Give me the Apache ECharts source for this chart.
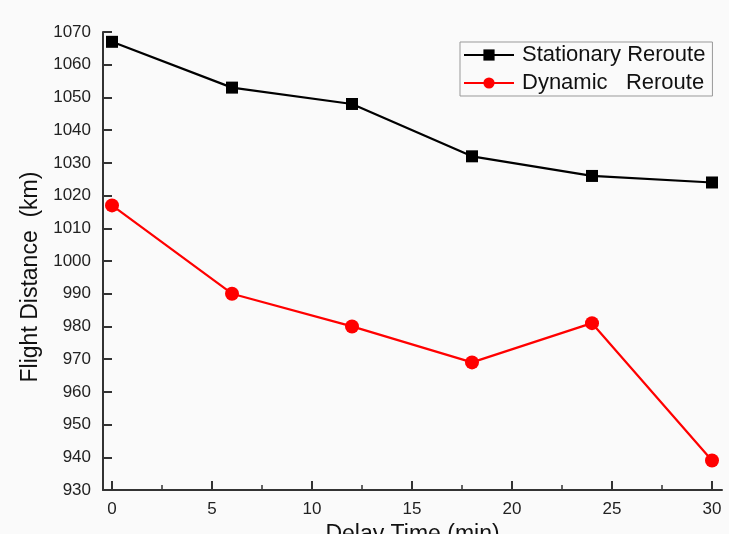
<!DOCTYPE html>
<html>
<head>
<meta charset="utf-8">
<script src="https://cdn.jsdelivr.net/npm/echarts@6/dist/echarts.min.js"></script>
<style>
html, body { margin: 0; padding: 0; background: #fafafa; }
#chart { width: 729px; height: 534px; }
</style>
</head>
<body>
<div id="chart"></div>
<script>
var delayTime = [0, 6, 12, 18, 24, 30];
var stationary = [1067, 1053, 1048, 1032, 1026, 1024];
var dynamic = [1017, 990, 980, 969, 981, 939];
var xMajor = [0, 5, 10, 15, 20, 25, 30];
var xMinor = [2.5, 7.5, 12.5, 17.5, 22.5, 27.5];

var font = "Liberation Sans";
function pairs(xs, ys) {
  return xs.map(function (x, i) { return [x, ys[i]]; });
}

var chart = echarts.init(document.getElementById('chart'));
chart.setOption({
  backgroundColor: '#fafafa',
  animation: false,
  grid: { left: 103, right: 7, top: 32, bottom: 44, outerBoundsMode: 'none', containLabel: false },
  legend: {
    orient: 'vertical',
    left: 460,
    top: 42,
    padding: [2, 7, 2, 3],
    itemGap: 6,
    itemWidth: 50,
    itemHeight: 14,
    borderColor: '#999',
    borderWidth: 1,
    textStyle: { fontFamily: font, fontSize: 22, color: '#111', padding: [0, 0, 0, 3] },
    data: ['Stationary Reroute', 'Dynamic   Reroute']
  },
  xAxis: [{
    type: 'value',
    min: -0.45,
    max: 30.5,
    name: 'Delay Time (min)',
    nameLocation: 'middle',
    nameGap: 26,
    nameTextStyle: { fontFamily: font, fontSize: 23, color: '#111' },
    axisLine: { lineStyle: { color: '#333', width: 2 } },
    axisTick: { inside: true, length: 9, customValues: xMajor, lineStyle: { color: '#333', width: 2 } },
    axisLabel: { customValues: xMajor, fontFamily: font, fontSize: 17, color: '#222', margin: 11 },
    splitLine: { show: false }
  }, {
    type: 'value',
    position: 'bottom',
    min: -0.45,
    max: 30.5,
    axisLine: { show: false },
    axisTick: { inside: true, length: 5, customValues: xMinor, lineStyle: { color: '#333', width: 1.5 } },
    axisLabel: { show: false },
    splitLine: { show: false }
  }],
  yAxis: {
    type: 'value',
    min: 930,
    max: 1070,
    interval: 10,
    name: 'Flight Distance  (km)',
    nameLocation: 'middle',
    nameGap: 60,
    nameTextStyle: { fontFamily: font, fontSize: 23, color: '#111', padding: [0, 32, 0, 0] },
    axisLine: { show: true, onZero: false, lineStyle: { color: '#333', width: 2 } },
    axisTick: { show: true, inside: true, length: 9, lineStyle: { color: '#333', width: 2 } },
    axisLabel: { fontFamily: font, fontSize: 17, color: '#222', margin: 12, formatter: function (v) { return String(v); } },
    splitLine: { show: false }
  },
  series: [{
    name: 'Stationary Reroute',
    type: 'line',
    data: pairs(delayTime, stationary),
    symbol: 'rect',
    symbolSize: 12,
    itemStyle: { color: '#000' },
    lineStyle: { color: '#000', width: 2.2 }
  }, {
    name: 'Dynamic   Reroute',
    type: 'line',
    data: pairs(delayTime, dynamic),
    symbol: 'circle',
    symbolSize: 14,
    itemStyle: { color: '#ff0000' },
    lineStyle: { color: '#ff0000', width: 2.2 }
  }]
});
</script>
</body>
</html>
